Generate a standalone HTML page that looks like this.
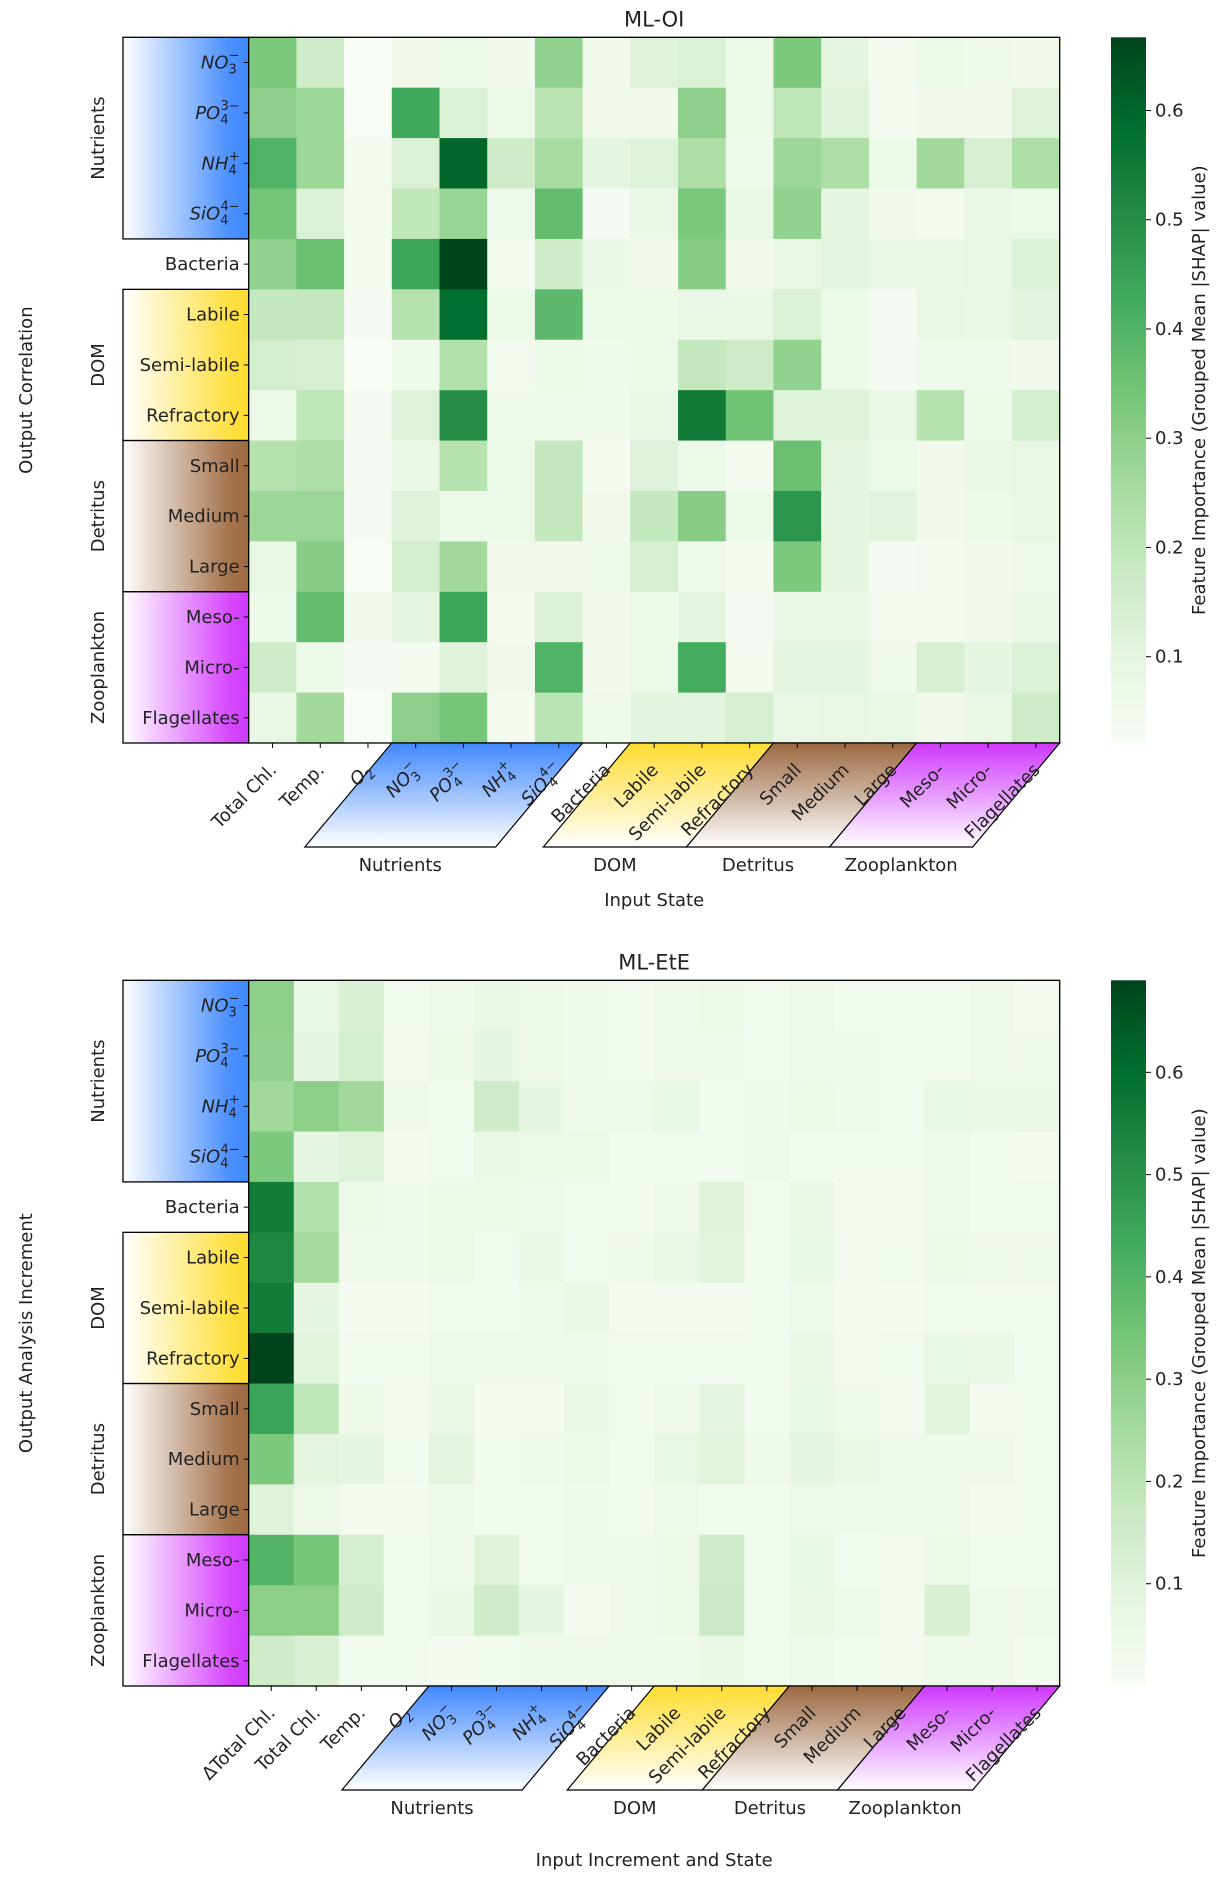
<!DOCTYPE html>
<html><head><meta charset="utf-8"><title>SHAP heatmaps</title>
<style>
html,body{margin:0;padding:0;background:#fff;}
svg{display:block;font-family:"DejaVu Sans","Liberation Sans",sans-serif;}
</style></head>
<body>
<svg id="fig" xmlns="http://www.w3.org/2000/svg" width="1224" height="1888" viewBox="0 0 1224 1888">
<defs>
<linearGradient id="gBlueH" x1="0" x2="1" y1="0" y2="0"><stop offset="0" stop-color="#ffffff"/><stop offset="0.85" stop-color="#4b90ff"/><stop offset="1" stop-color="#4088ff"/></linearGradient>
<linearGradient id="gYelH" x1="0" x2="1" y1="0" y2="0"><stop offset="0" stop-color="#ffffff"/><stop offset="0.85" stop-color="#ffe042"/><stop offset="1" stop-color="#ffdc30"/></linearGradient>
<linearGradient id="gBrnH" x1="0" x2="1" y1="0" y2="0"><stop offset="0" stop-color="#ffffff"/><stop offset="0.85" stop-color="#a5734c"/><stop offset="1" stop-color="#9c6840"/></linearGradient>
<linearGradient id="gMagH" x1="0" x2="1" y1="0" y2="0"><stop offset="0" stop-color="#ffffff"/><stop offset="0.85" stop-color="#d748ff"/><stop offset="1" stop-color="#cf38ff"/></linearGradient>
<linearGradient id="gBlueV" x1="0" x2="0" y1="0" y2="1"><stop offset="0" stop-color="#4088ff"/><stop offset="1" stop-color="#ffffff"/></linearGradient>
<linearGradient id="gYelV" x1="0" x2="0" y1="0" y2="1"><stop offset="0" stop-color="#ffdc30"/><stop offset="1" stop-color="#ffffff"/></linearGradient>
<linearGradient id="gBrnV" x1="0" x2="0" y1="0" y2="1"><stop offset="0" stop-color="#9c6840"/><stop offset="1" stop-color="#ffffff"/></linearGradient>
<linearGradient id="gMagV" x1="0" x2="0" y1="0" y2="1"><stop offset="0" stop-color="#cf38ff"/><stop offset="1" stop-color="#ffffff"/></linearGradient>
<linearGradient id="gGreens" x1="0" x2="0" y1="1" y2="0">
<stop offset="0" stop-color="#f7fcf5"/><stop offset="0.125" stop-color="#e5f5e0"/><stop offset="0.25" stop-color="#c7e9c0"/><stop offset="0.375" stop-color="#a1d99b"/><stop offset="0.5" stop-color="#74c476"/><stop offset="0.625" stop-color="#41ab5d"/><stop offset="0.75" stop-color="#238b45"/><stop offset="0.875" stop-color="#006d2c"/><stop offset="1" stop-color="#00441b"/>
</linearGradient>
</defs>
</svg>
<script>
// ---- data ----
const rowLabels = ['NO3','PO4','NH4','SiO4','Bacteria','Labile','Semi-labile','Refractory','Small','Medium','Large','Meso-','Micro-','Flagellates'];
const colLabelsOI = ['Total Chl.','Temp.','O2','NO3','PO4','NH4','SiO4','Bacteria','Labile','Semi-labile','Refractory','Small','Medium','Large','Meso-','Micro-','Flagellates'];
const colLabelsEtE = ['ΔTotal Chl.','Total Chl.','Temp.','O2','NO3','PO4','NH4','SiO4','Bacteria','Labile','Semi-labile','Refractory','Small','Medium','Large','Meso-','Micro-','Flagellates'];
const cbTicks = [0.1,0.2,0.3,0.4,0.5,0.6];
const valuesOI = [
[0.33,0.16,0.02,0.05,0.07,0.05,0.29,0.05,0.12,0.13,0.07,0.33,0.10,0.04,0.07,0.06,0.05],
[0.30,0.27,0.02,0.43,0.13,0.07,0.21,0.05,0.05,0.30,0.07,0.20,0.12,0.04,0.05,0.05,0.12],
[0.40,0.27,0.04,0.13,0.60,0.16,0.25,0.10,0.12,0.24,0.06,0.27,0.24,0.07,0.26,0.14,0.24],
[0.34,0.13,0.04,0.20,0.28,0.06,0.37,0.03,0.08,0.33,0.09,0.29,0.10,0.05,0.04,0.08,0.07],
[0.29,0.36,0.04,0.44,0.667,0.04,0.16,0.08,0.05,0.31,0.05,0.09,0.10,0.08,0.08,0.09,0.13],
[0.19,0.19,0.03,0.22,0.58,0.07,0.38,0.07,0.07,0.08,0.08,0.13,0.07,0.03,0.09,0.08,0.11],
[0.15,0.14,0.02,0.06,0.23,0.04,0.07,0.06,0.07,0.19,0.16,0.29,0.07,0.03,0.06,0.06,0.05],
[0.07,0.20,0.03,0.12,0.50,0.06,0.06,0.06,0.08,0.55,0.35,0.12,0.12,0.09,0.22,0.07,0.15],
[0.22,0.24,0.03,0.08,0.22,0.07,0.19,0.04,0.12,0.07,0.04,0.36,0.10,0.07,0.05,0.08,0.09],
[0.27,0.27,0.03,0.12,0.07,0.07,0.19,0.05,0.19,0.31,0.07,0.48,0.10,0.11,0.05,0.07,0.09],
[0.09,0.31,0.02,0.15,0.26,0.05,0.05,0.06,0.14,0.06,0.04,0.33,0.10,0.03,0.04,0.05,0.06],
[0.07,0.37,0.05,0.10,0.44,0.04,0.13,0.05,0.07,0.10,0.03,0.08,0.08,0.04,0.04,0.05,0.08],
[0.16,0.07,0.03,0.04,0.12,0.05,0.40,0.05,0.07,0.42,0.04,0.10,0.10,0.06,0.14,0.10,0.13],
[0.08,0.26,0.02,0.30,0.34,0.04,0.21,0.06,0.11,0.11,0.14,0.08,0.09,0.08,0.05,0.08,0.16]
];
const valuesEtE = [
[0.30,0.07,0.12,0.03,0.04,0.06,0.05,0.04,0.03,0.04,0.05,0.03,0.04,0.03,0.03,0.03,0.04,0.02],
[0.29,0.08,0.14,0.02,0.05,0.08,0.05,0.04,0.03,0.04,0.04,0.03,0.04,0.04,0.03,0.03,0.04,0.04],
[0.26,0.30,0.26,0.04,0.03,0.15,0.08,0.04,0.04,0.07,0.03,0.04,0.05,0.04,0.03,0.07,0.06,0.06],
[0.33,0.08,0.11,0.02,0.03,0.06,0.05,0.05,0.03,0.03,0.03,0.04,0.03,0.03,0.03,0.04,0.03,0.02],
[0.56,0.22,0.05,0.04,0.05,0.05,0.04,0.03,0.03,0.04,0.11,0.03,0.06,0.02,0.02,0.04,0.03,0.03],
[0.53,0.25,0.04,0.04,0.05,0.03,0.06,0.03,0.04,0.06,0.10,0.03,0.07,0.02,0.03,0.05,0.04,0.04],
[0.56,0.08,0.02,0.02,0.03,0.03,0.04,0.06,0.02,0.02,0.02,0.03,0.04,0.02,0.02,0.03,0.03,0.03],
[0.69,0.10,0.03,0.03,0.04,0.04,0.04,0.04,0.03,0.03,0.03,0.03,0.06,0.02,0.03,0.07,0.06,0.03],
[0.45,0.19,0.05,0.02,0.06,0.02,0.02,0.06,0.03,0.04,0.09,0.03,0.07,0.04,0.02,0.10,0.02,0.03],
[0.33,0.09,0.08,0.03,0.09,0.03,0.04,0.05,0.03,0.07,0.10,0.04,0.08,0.06,0.04,0.04,0.04,0.03],
[0.11,0.05,0.02,0.02,0.04,0.03,0.03,0.04,0.03,0.04,0.03,0.03,0.04,0.04,0.04,0.04,0.02,0.03],
[0.40,0.34,0.14,0.03,0.04,0.11,0.03,0.04,0.04,0.05,0.15,0.03,0.07,0.03,0.02,0.05,0.03,0.03],
[0.30,0.30,0.15,0.03,0.06,0.15,0.08,0.02,0.04,0.05,0.17,0.03,0.06,0.04,0.02,0.12,0.04,0.04],
[0.15,0.12,0.03,0.03,0.02,0.03,0.04,0.04,0.04,0.04,0.06,0.03,0.04,0.03,0.02,0.04,0.04,0.03]
];

// ---- helpers ----
const NS = 'http://www.w3.org/2000/svg';
const svg = document.getElementById('fig');
const FS = 18;
function mk(tag, attrs, parent){ const e=document.createElementNS(NS,tag); for(const k in attrs) e.setAttribute(k,attrs[k]); (parent||svg).appendChild(e); return e; }
const stops=[[0,[247,252,245]],[0.125,[229,245,224]],[0.25,[199,233,192]],[0.375,[161,217,155]],[0.5,[116,196,118]],[0.625,[65,171,93]],[0.75,[35,139,69]],[0.875,[0,109,44]],[1,[0,68,27]]];
function greens(t){ t=Math.max(0,Math.min(1,t)); for(let i=1;i<stops.length;i++){ if(t<=stops[i][0]){ const a=stops[i-1],b=stops[i]; const f=(t-a[0])/(b[0]-a[0]); const c=a[1].map((v,j)=>Math.round(v+(b[1][j]-v)*f)); return 'rgb('+c.join(',')+')'; } } return 'rgb(0,68,27)'; }
function labelHTML(n){
  if(n==='NO3') return `<tspan font-style="italic">NO</tspan><tspan font-size="13" dy="5">3</tspan><tspan font-size="13" dx="-8" dy="-14">−</tspan>`;
  if(n==='PO4') return `<tspan font-style="italic">PO</tspan><tspan font-size="13" dy="5">4</tspan><tspan font-size="13" dx="-8" dy="-14">3−</tspan>`;
  if(n==='NH4') return `<tspan font-style="italic">NH</tspan><tspan font-size="13" dy="5">4</tspan><tspan font-size="13" dx="-8" dy="-14">+</tspan>`;
  if(n==='SiO4') return `<tspan font-style="italic">SiO</tspan><tspan font-size="13" dy="5">4</tspan><tspan font-size="13" dx="-8" dy="-14">4−</tspan>`;
  if(n==='O2') return `<tspan font-style="italic">O</tspan><tspan font-size="13" dy="5">2</tspan>`;
  return n;
}

function heatmap(cfg){
  const {left,top,width,height,cols,vals,vmin,vmax,title,ylabel,xlabel,colGroups,prefix} = cfg;
  const nR=rowLabels.length, nC=cols.length, cw=width/nC, rh=height/nR, bottom=top+height;
  const xScale=(i)=>left+i*cw, yScale=(j)=>top+j*rh, cScale=(v)=>(v-vmin)/(vmax-vmin);
  const g=mk('g',{});  
  const rowGroups=[['Nutrients',0,3,'gBlueH'],['DOM',5,7,'gYelH'],['Detritus',8,10,'gBrnH'],['Zooplankton',11,13,'gMagH']];
  rowGroups.forEach(([nm,a,b,grad])=>{
    const r=mk('rect',{x:123,y:yScale(a),width:left-123,height:yScale(b+1)-yScale(a),fill:`url(#${grad})`,stroke:'#000','stroke-width':1.3},g);
     
    const cy=(yScale(a)+yScale(b+1))/2;
    const t=mk('text',{x:0,y:0,transform:`translate(104,${cy}) rotate(-90)`,'text-anchor':'middle','font-size':FS,fill:'#222'},g);
    t.textContent=nm;  
  });
  for(let j=0;j<nR;j++) for(let i=0;i<nC;i++){
    const c=mk('rect',{x:xScale(i),y:yScale(j),width:cw+0.5,height:rh+0.5,fill:greens(cScale(vals[j][i]))},g);
     
  }
  mk('rect',{x:left,y:top,width:width,height:height,fill:'none',stroke:'#000','stroke-width':1.3},g);
  rowLabels.forEach((n,j)=>{
    const cy=yScale(j)+rh/2;
    mk('line',{x1:left-5,x2:left,y1:cy,y2:cy,stroke:'#000','stroke-width':1},g);
    const t=mk('text',{x:left-9,y:cy+6,'text-anchor':'end','font-size':FS,fill:'#222'},g);
    t.innerHTML=labelHTML(n);  
  });
  const shift=87, dh=104;
  colGroups.forEach(([nm,a,b,grad])=>{
    const x0=xScale(a), x1=xScale(b+1);
    const p=mk('polygon',{points:`${x0},${bottom} ${x1},${bottom} ${x1-shift},${bottom+dh} ${x0-shift},${bottom+dh}`,fill:`url(#${grad})`,stroke:'#000','stroke-width':1.2},g);
     
    const t=mk('text',{x:(x0+x1)/2-shift,y:bottom+dh+24,'text-anchor':'middle','font-size':FS,fill:'#222'},g);
    t.textContent=nm;  
  });
  cols.forEach((n,i)=>{
    const cx=xScale(i)+cw/2;
    mk('line',{x1:cx,x2:cx,y1:bottom,y2:bottom+5,stroke:'#000','stroke-width':1},g);
    const t=mk('text',{x:0,y:0,transform:`translate(${cx+5},${bottom+28}) rotate(-45)`,'text-anchor':'end','font-size':FS,fill:'#222'},g);
    t.innerHTML=labelHTML(n);  
  });
  const tt=mk('text',{x:left+width/2,y:top-11,'text-anchor':'middle','font-size':21,fill:'#222'},g);
  tt.textContent=title;  
  const xl=mk('text',{x:left+width/2,y:cfg.xlabelY,'text-anchor':'middle','font-size':FS,fill:'#222'},g);
  xl.textContent=xlabel;  
  const yl=mk('text',{x:0,y:0,transform:`translate(32,${top+height/2}) rotate(-90)`,'text-anchor':'middle','font-size':FS,fill:'#222'},g);
  yl.textContent=ylabel;  
  const cbx=1111, cbw=35;
  const cb=mk('rect',{x:cbx,y:top,width:cbw,height:height,fill:'url(#gGreens)'},g);
   
  const cbY=(v)=>bottom-(v-vmin)/(vmax-vmin)*height;
  cbTicks.forEach(v=>{
    const y=cbY(v);
    mk('line',{x1:cbx+cbw,x2:cbx+cbw+5,y1:y,y2:y,stroke:'#000','stroke-width':1},g);
    const t=mk('text',{x:cbx+cbw+9,y:y+6,'font-size':FS,fill:'#222'},g);
    t.textContent=v.toFixed(1);  
  });
  const cl=mk('text',{x:0,y:0,transform:`translate(1205,${top+height/2}) rotate(-90)`,'text-anchor':'middle','font-size':FS,fill:'#222'},g);
  cl.textContent='Feature Importance (Grouped Mean |SHAP| value)';  
}

heatmap({prefix:'ml-oi',left:248.7,top:37.3,width:811,height:705.7,cols:colLabelsOI,vals:valuesOI,vmin:0.021,vmax:0.667,
  title:'ML-OI',ylabel:'Output Correlation',xlabel:'Input State',xlabelY:906,
  colGroups:[['Nutrients',3,6,'gBlueV'],['DOM',8,10,'gYelV'],['Detritus',11,13,'gBrnV'],['Zooplankton',14,16,'gMagV']]});
heatmap({prefix:'ml-ete',left:248.7,top:980.3,width:811,height:705.7,cols:colLabelsEtE,vals:valuesEtE,vmin:0.0,vmax:0.69,
  title:'ML-EtE',ylabel:'Output Analysis Increment',xlabel:'Input Increment and State',xlabelY:1866,
  colGroups:[['Nutrients',4,7,'gBlueV'],['DOM',9,11,'gYelV'],['Detritus',12,14,'gBrnV'],['Zooplankton',15,17,'gMagV']]});
</script>
</body></html>
